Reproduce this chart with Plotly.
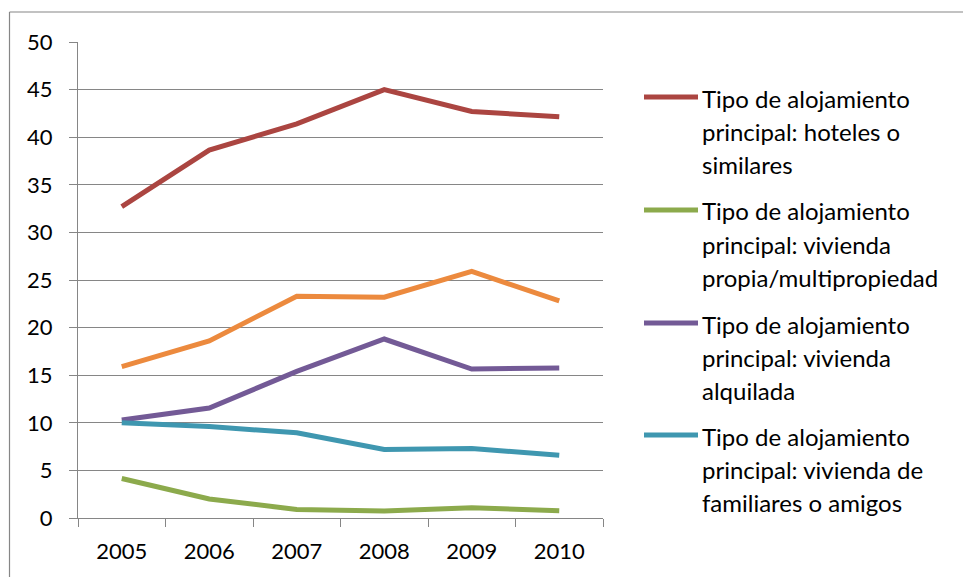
import plotly.graph_objects as go

# Years on the category axis
years = ["2005", "2006", "2007", "2008", "2009", "2010"]

# Share (%) by main type of accommodation
hoteles = [32.7, 38.65, 41.4, 45.0, 42.7, 42.15]
propia = [4.15, 2.0, 0.9, 0.73, 1.08, 0.77]
alquilada = [10.3, 11.55, 15.4, 18.8, 15.65, 15.75]
familiares = [10.0, 9.6, 8.95, 7.2, 7.3, 6.6]
otros = [15.9, 18.6, 23.3, 23.2, 25.9, 22.8]

y_ticks = [0, 5, 10, 15, 20, 25, 30, 35, 40, 45, 50]

names = [
    "Tipo de alojamiento\nprincipal: hoteles o\nsimilares",
    "Tipo de alojamiento\nprincipal: vivienda\npropia/multipropiedad",
    "Tipo de alojamiento\nprincipal: vivienda\nalquilada",
    "Tipo de alojamiento\nprincipal: vivienda de\nfamiliares o amigos",
]
colors = ["#AB4541", "#8CAA4C", "#735A96", "#3F97B0"]
orange = "#EC8A3E"

FONT = "Lato"
W, H = 963, 577
L, R, T, B = 78, 603, 42, 518  # plot area in pixels


def px_x(px):
    return (px - L) / (R - L)


def px_y(py):
    return (B - py) / (B - T)


fig = go.Figure()

# orange series is drawn first (beneath the others) and has no legend entry
fig.add_trace(go.Scatter(x=years, y=otros, mode="lines",
                         line=dict(color=orange, width=5), showlegend=False))
series = [hoteles, propia, alquilada, familiares]
for vals, nm, c in zip(series, names, colors):
    fig.add_trace(go.Scatter(x=years, y=vals, mode="lines",
                             name=nm.replace("\n", " "),
                             line=dict(color=c, width=5), showlegend=False))

shapes = []
annotations = []

# chart frame (left and top edges)
frame = "#868686"
shapes.append(dict(type="line", xref="paper", yref="paper",
                   x0=px_x(9.5), x1=px_x(9.5), y0=px_y(12), y1=px_y(600),
                   line=dict(color=frame, width=1.2)))
shapes.append(dict(type="line", xref="paper", yref="paper",
                   x0=px_x(9.5), x1=px_x(970), y0=px_y(12), y1=px_y(12),
                   line=dict(color=frame, width=1.2)))

# legend: line sample plus wrapped label
entry_y = [97, 210, 323, 435]
line_gap = 33
for nm, c, ey in zip(names, colors, entry_y):
    shapes.append(dict(type="line", xref="paper", yref="paper",
                       x0=px_x(644), x1=px_x(698), y0=px_y(ey), y1=px_y(ey),
                       line=dict(color=c, width=5)))
    for i, part in enumerate(nm.split("\n")):
        annotations.append(dict(xref="paper", yref="paper",
                                x=px_x(700), y=px_y(ey + 1 + i * line_gap),
                                xanchor="left", yanchor="middle",
                                text=part, showarrow=False,
                                font=dict(family=FONT, size=24, color="#000000")))

fig.update_layout(
    width=W, height=H,
    margin=dict(l=L, r=W - R, t=T, b=H - B, pad=0),
    paper_bgcolor="white", plot_bgcolor="white",
    font=dict(family=FONT, size=22, color="#000000"),
    showlegend=False,
    shapes=shapes,
    annotations=annotations,
    xaxis=dict(
        type="category", range=[-0.5, 5.5],
        showline=True, linecolor=frame, linewidth=1.3,
        ticks="outside", tickson="boundaries", ticklen=8,
        tickcolor=frame, tickwidth=1.3,
        showgrid=False, zeroline=False,
        ticklabelstandoff=13,
        tickfont=dict(family=FONT, size=22, color="#000000"),
    ),
    yaxis=dict(
        range=[0, 50], tickvals=y_ticks,
        showline=True, linecolor=frame, linewidth=1.3,
        ticks="outside", ticklen=8, tickcolor=frame, tickwidth=1.3,
        showgrid=True, gridcolor=frame, gridwidth=1.3,
        zeroline=False,
        ticklabelstandoff=12,
        tickfont=dict(family=FONT, size=22, color="#000000"),
    ),
)

fig.write_html("out.html")
